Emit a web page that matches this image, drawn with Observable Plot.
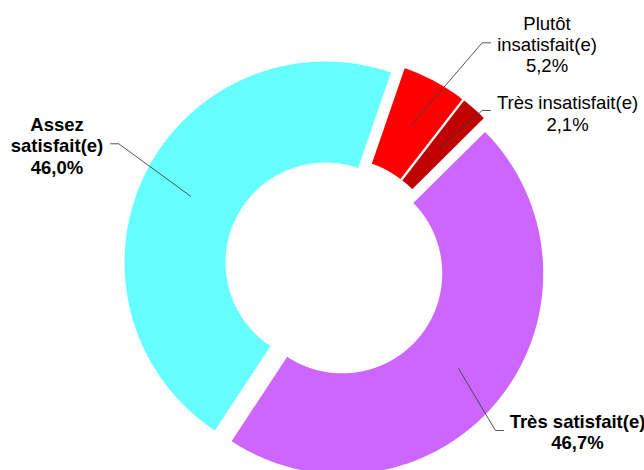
<!DOCTYPE html>
<html><head><meta charset="utf-8">
<script src="https://cdn.jsdelivr.net/npm/d3@7"></script>
<script src="https://cdn.jsdelivr.net/npm/@observablehq/plot@0.6"></script>
<style>
body{margin:0;background:#fff}
#chart{width:644px;height:470px;overflow:hidden}
</style>
</head><body><div id="chart"></div>
<script>
// ---- data ----
const categories = ["Plutôt insatisfait(e)", "Très insatisfait(e)", "Très satisfait(e)", "Assez satisfait(e)"];
const values = [5.2, 2.1, 46.7, 46.0];
const labelLines = [["Plutôt", "insatisfait(e)"], ["Très insatisfait(e)"], ["Très satisfait(e)"], ["Assez", "satisfait(e)"]];
const boldLabel = [false, false, true, true];
const colors = ["#FF0000", "#C00000", "#CC66FF", "#66FFFF"];

// ---- layout (chart units = px, origin at donut centre, y up) ----
const startAngle = 19;       // degrees clockwise from 12 o'clock
const outerR = 201, innerR = 100, explode = 10;
const labelCenter = [[212.5, 223], [233, 153.8], [243, -165], [-277.5, 121.5]];
const leaderElbow = [[147.7, 224.2], [147.7, 156.5], [161, -163.5], [-215.7, 123.2]];
const leaderEnd   = [[156, 224.2], [156, 156.5], [169, -163.5], [-224, 123.2]];

const rad = d => d * Math.PI / 180;
const pie = d3.pie().sort(null).value(d => d)
  .startAngle(rad(startAngle)).endAngle(rad(startAngle + 360));
const arcs = pie(values);

const pt = (a, r, ox, oy) => ({x: ox + r * Math.sin(a), y: oy + r * Math.cos(a)});

const slices = arcs.map((arc, i) => {
  const mid = (arc.startAngle + arc.endAngle) / 2;
  const ox = explode * Math.sin(mid), oy = explode * Math.cos(mid);
  const n = Math.max(8, Math.ceil((arc.endAngle - arc.startAngle) / rad(0.5)));
  const pts = [];
  for (let k = 0; k <= n; k++) {
    const a = arc.startAngle + (arc.endAngle - arc.startAngle) * k / n;
    pts.push({...pt(a, outerR, ox, oy), cat: categories[i]});
  }
  for (let k = n; k >= 0; k--) {
    const a = arc.startAngle + (arc.endAngle - arc.startAngle) * k / n;
    pts.push({...pt(a, innerR, ox, oy), cat: categories[i]});
  }
  const centroid = pt(mid, (outerR + innerR) / 2, ox, oy);
  return {pts, centroid};
});

const leaders = slices.flatMap((s, i) => [
  {x: s.centroid.x, y: s.centroid.y, cat: categories[i]},
  {x: leaderElbow[i][0], y: leaderElbow[i][1], cat: categories[i]},
  {x: leaderEnd[i][0], y: leaderEnd[i][1], cat: categories[i]}
]);

const fmt = v => v.toFixed(1).replace(".", ",") + "%";
const labelData = categories.map((c, i) => ({
  x: labelCenter[i][0], y: labelCenter[i][1],
  text: [...labelLines[i], fmt(values[i])].join("\n"),
  bold: boldLabel[i]
}));

const font = "'Liberation Sans', Arial, sans-serif";
const chart = Plot.plot({
  width: 644, height: 470,
  margin: 0,
  x: {domain: [-334, 310], axis: null},
  y: {domain: [-203.5, 266.5], axis: null},
  style: {background: "#fff", overflow: "hidden"},
  marks: [
    ...slices.map((s, i) => Plot.line(s.pts, {x: "x", y: "y", fill: colors[i], stroke: "none", curve: "linear"})),
    Plot.line(leaders, {x: "x", y: "y", z: "cat", stroke: "#404040", strokeWidth: 0.9}),
    Plot.text(labelData.filter(d => !d.bold), {x: "x", y: "y", text: "text", fontSize: 18.5, fontFamily: font,
      fill: "#000", textAnchor: "middle", lineAnchor: "middle", lineHeight: 1.15}),
    Plot.text(labelData.filter(d => d.bold), {x: "x", y: "y", text: "text", fontSize: 18.5, fontFamily: font,
      fontWeight: "bold", fill: "#000", textAnchor: "middle", lineAnchor: "middle", lineHeight: 1.15})
  ]
});
document.getElementById("chart").appendChild(chart);
</script>
</body></html>
